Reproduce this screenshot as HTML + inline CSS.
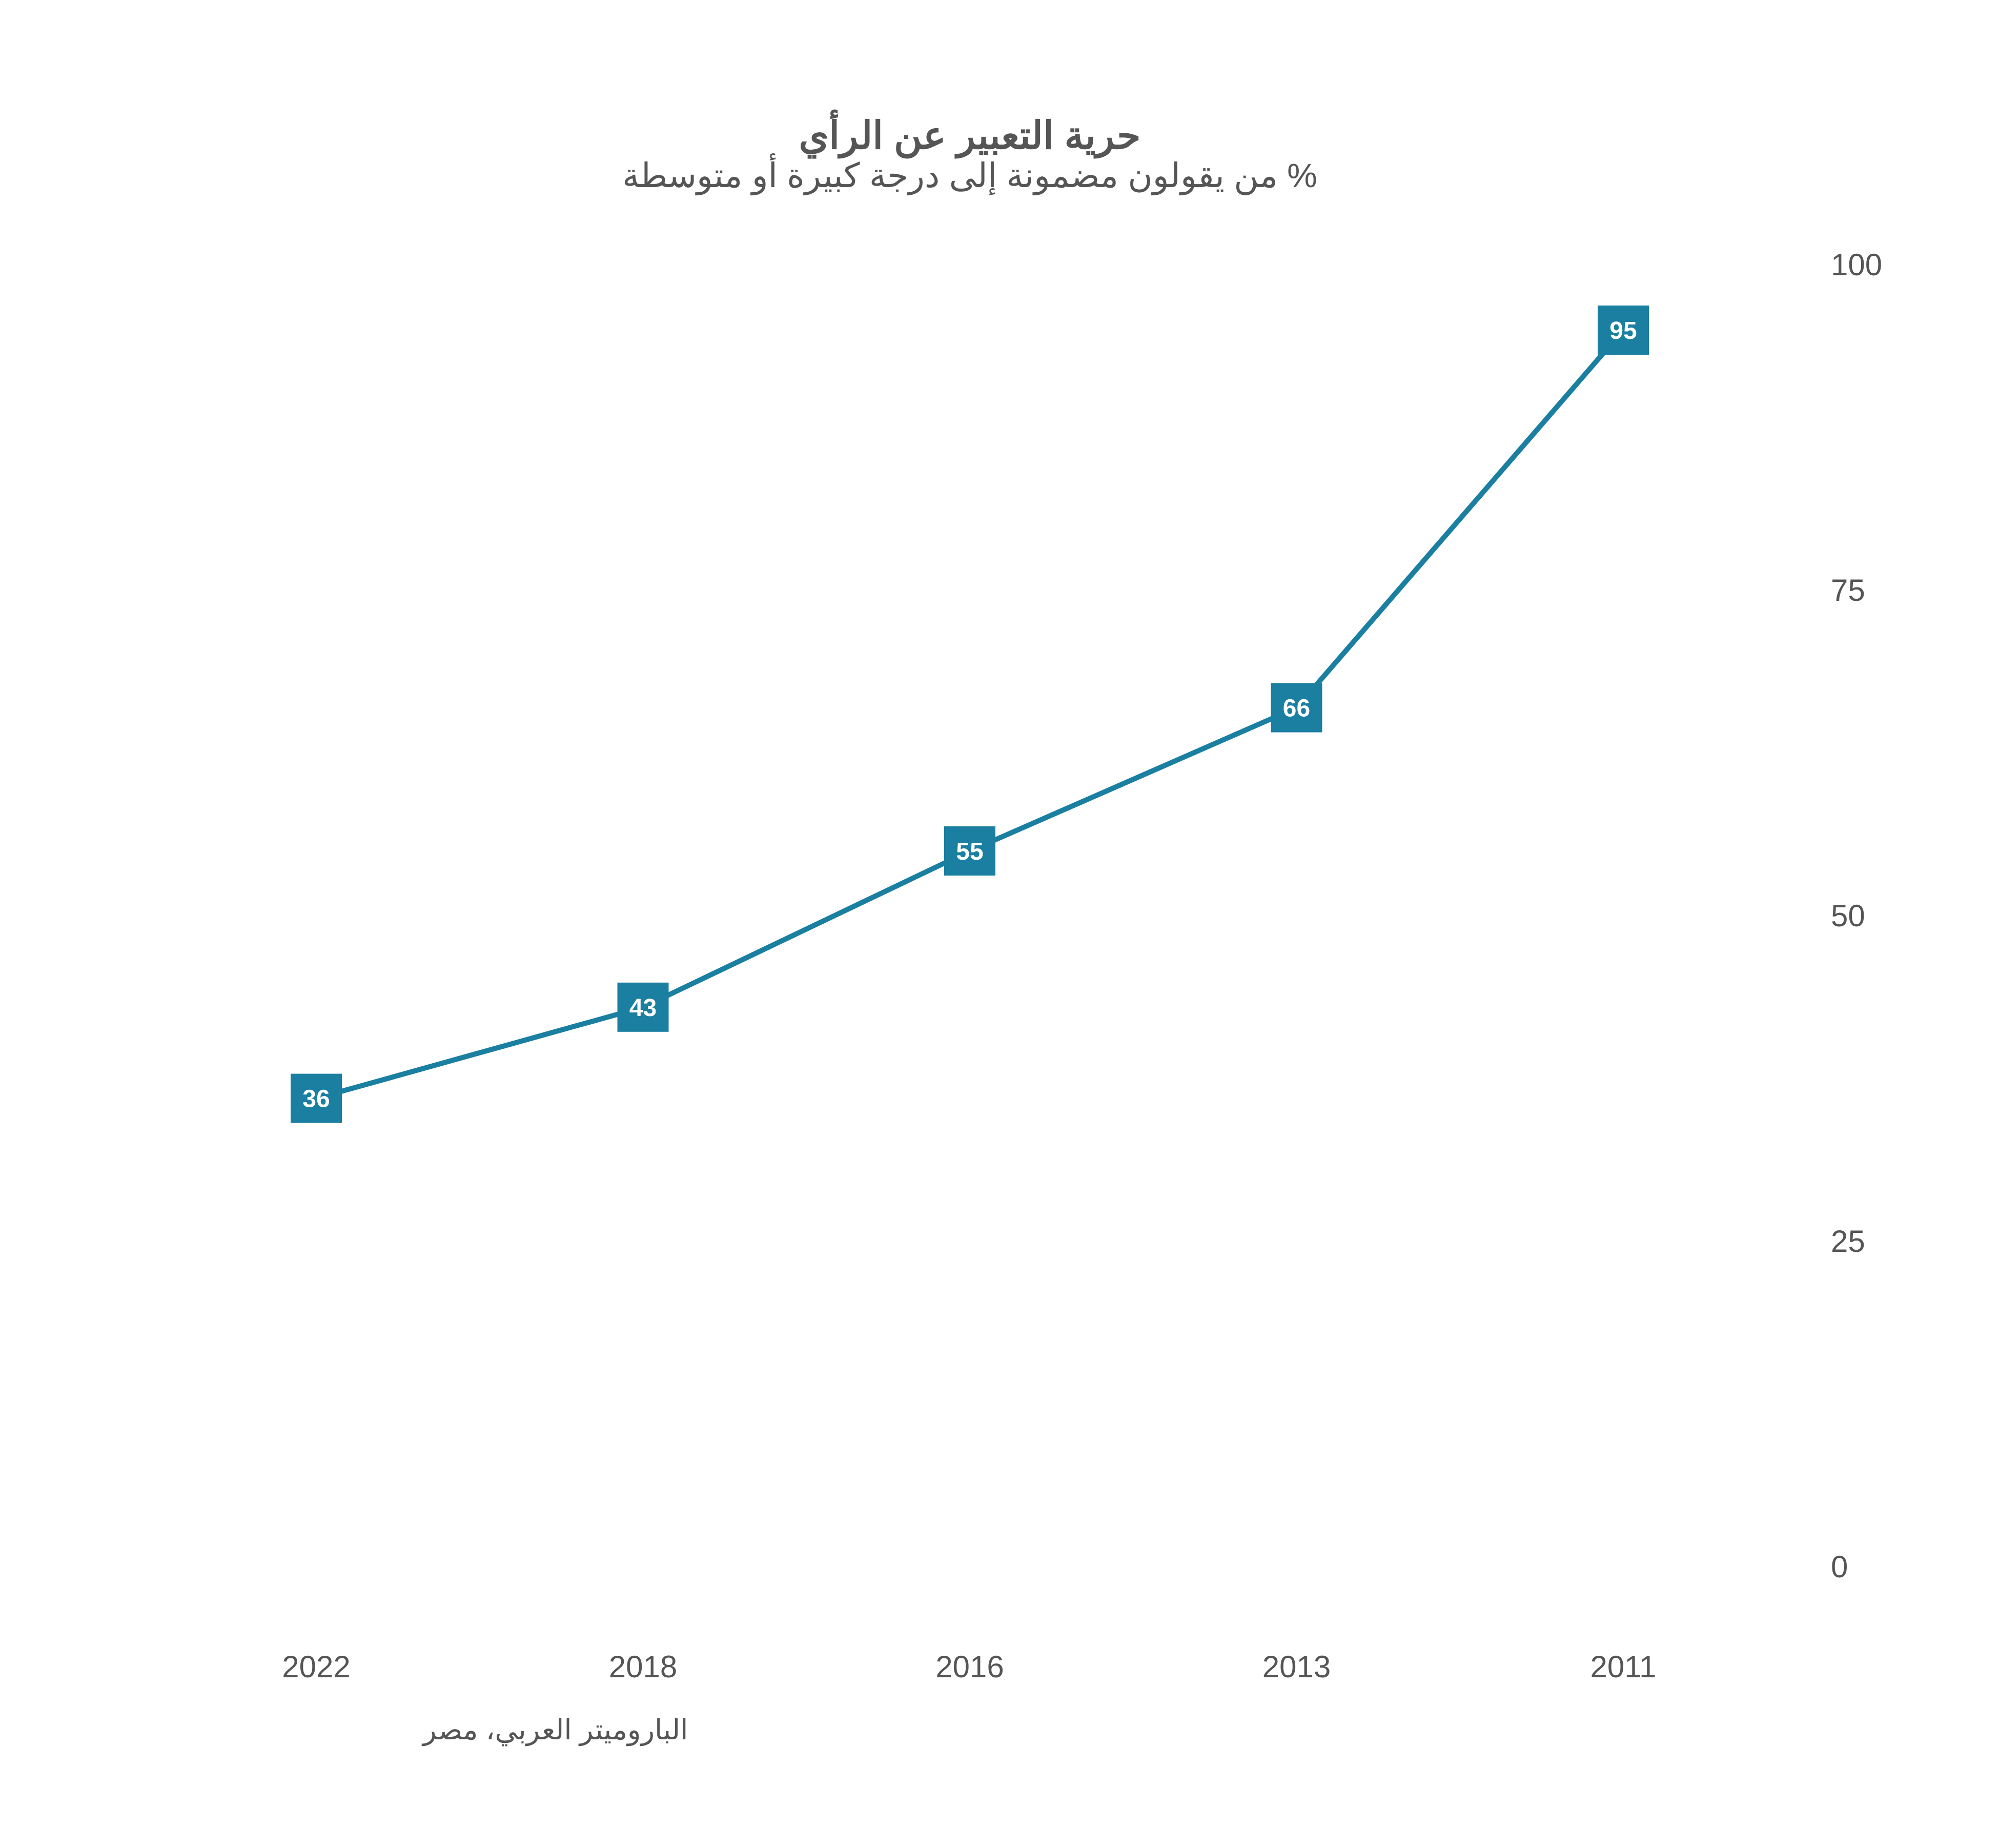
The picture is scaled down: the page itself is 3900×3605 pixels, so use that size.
<!DOCTYPE html>
<html><head><meta charset="utf-8"><style>
html,body{margin:0;padding:0;background:#fff;}
svg text{font-family:"Liberation Sans","Noto Sans CJK SC",sans-serif;}
</style></head><body>
<svg id="chart" width="3900" height="3600" viewBox="0 0 3900 3600" xmlns="http://www.w3.org/2000/svg">
<rect width="3900" height="3600" fill="#fff"/>
<text x="1892" y="290" text-anchor="middle" font-size="75" font-weight="bold" fill="#555" direction="rtl">حرية التعبير عن الرأي</text>
<text x="1892" y="365" text-anchor="middle" font-size="66" fill="#555" direction="rtl">% من يقولون مضمونة إلى درجة كبيرة أو متوسطة</text>
<text x="825" y="3393" text-anchor="end" font-size="55" fill="#555" direction="rtl">الباروميتر العربي، مصر</text>
<g id="yaxis"></g>
<g id="xaxis"></g>
<g id="series"></g>
</svg>
<script>
const categories = ["2022","2018","2016","2013","2011"];
const values = [36,43,55,66,95];
const yTicks = [0,25,50,75,100];
const NS="http://www.w3.org/2000/svg";
function xPos(i){return 617+i*637.5;}
function yPos(v){return 3057-v*25.4;}
function mk(tag,attrs,parent){const e=document.createElementNS(NS,tag);for(const k in attrs)e.setAttribute(k,attrs[k]);parent.appendChild(e);return e;}
const ya=document.getElementById('yaxis'),xa=document.getElementById('xaxis'),sg=document.getElementById('series');
yTicks.forEach(t=>{const e=mk('text',{x:3572,y:yPos(t)+20,'font-size':60,fill:'#555'},ya);


e.textContent=t;});
categories.forEach((c,i)=>{const e=mk('text',{x:xPos(i),y:3272,'text-anchor':'middle','font-size':60,fill:'#555'},xa);


e.textContent=c;});
const pts=values.map((v,i)=>xPos(i)+','+yPos(v)).join(' ');
const pl=mk('polyline',{points:pts,fill:'none',stroke:'#1a7fa0','stroke-width':10,'stroke-linejoin':'round'},sg);


values.forEach((v,i)=>{const x=xPos(i),y=yPos(v);
const r=mk('rect',{x:x-50,y:y-48,width:100,height:96,fill:'#1a7fa0'},sg);


const t=mk('text',{x:x,y:y+17,'text-anchor':'middle','font-size':48,'font-weight':'bold',fill:'#fff'},sg);


t.textContent=v;});
</script>
</body></html>
